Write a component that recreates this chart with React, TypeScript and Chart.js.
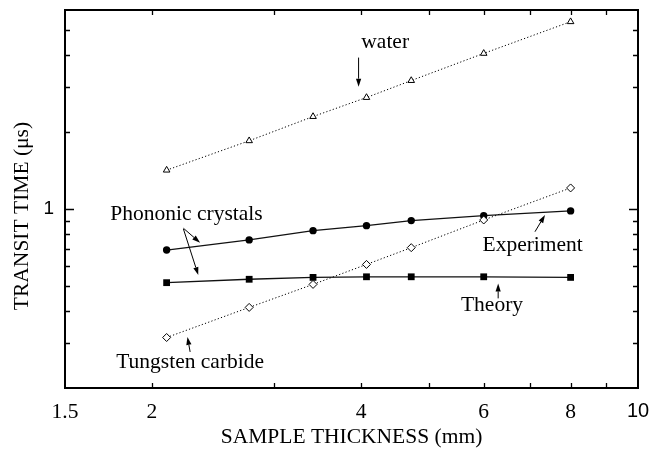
import React, { useEffect, useRef } from 'react';
import { Chart, registerables } from 'chart.js';

Chart.register(...registerables);

// ---- data ----
const thickness = [2.1, 2.76, 3.41, 4.07, 4.72, 6.0, 8.0];
const waterTime = [1.42, 1.85, 2.3, 2.73, 3.18, 4.06, 5.4];
const tungstenTime = [0.315, 0.413, 0.508, 0.608, 0.707, 0.907, 1.21];
const experimentTime = [0.692, 0.758, 0.824, 0.862, 0.902, 0.943, 0.984];
const theoryTime = [0.516, 0.532, 0.541, 0.544, 0.544, 0.544, 0.541];

const xTickValues = [1.5, 2, 3, 4, 5, 6, 7, 8, 9, 10];
const xTickLabels = ['1.5', '2', '', '4', '', '6', '', '8', '', '10'];
const yTickValues = [0.3, 0.4, 0.5, 0.6, 0.7, 0.8, 0.9, 1, 2, 3, 4, 5];
const yTickLabels = ['', '', '', '', '', '', '', '1', '', '', '', ''];

const xTitle = 'SAMPLE THICKNESS (mm)';
const yTitle = 'TRANSIT TIME (\u03bcs)';

// annotations in data coordinates
const noteTexts = ['water', 'Phononic crystals', 'Experiment', 'Theory', 'Tungsten carbide'];
const noteX = [4.33, 1.743, 5.976, 5.565, 1.777];
const noteY = [4.47, 0.958, 0.724, 0.4216, 0.2529];
const noteAlign = ['center', 'left', 'left', 'left', 'left'];

const arrowFromX = [3.965, 2.22, 2.22, 7.11, 6.294, 2.27];
const arrowFromY = [3.91, 0.842, 0.8366, 0.816, 0.448, 0.2767];
const arrowToX = [3.965, 2.346, 2.332, 7.35, 6.294, 2.25];
const arrowToY = [3.01, 0.739, 0.5525, 0.949, 0.5127, 0.3167];

const SERIF = '"Liberation Serif", "Times New Roman", serif';
const SANS = '"Liberation Sans", Arial, sans-serif';

const pts = (ys: number[]) => thickness.map((x, i) => ({ x, y: ys[i] }));

const framePlugin = {
  id: 'frameAndNotes',
  afterDatasetsDraw(chart: any) {
    const { ctx, chartArea: a } = chart;
    const xs = chart.scales.x;
    const ys = chart.scales.y;
    ctx.save();
    ctx.strokeStyle = '#000';
    ctx.fillStyle = '#000';
    // inner tick marks
    ctx.lineWidth = 1.3;
    ctx.beginPath();
    xTickValues.forEach((v) => {
      if (v <= xs.min || v >= xs.max) return;
      const px = Math.round(xs.getPixelForValue(v)) + 0.5;
      ctx.moveTo(px, a.bottom);
      ctx.lineTo(px, a.bottom - 5);
      ctx.moveTo(px, a.top);
      ctx.lineTo(px, a.top + 5);
    });
    yTickValues.forEach((v, i) => {
      if (v <= ys.min || v >= ys.max) return;
      const py = Math.round(ys.getPixelForValue(v)) + 0.5;
      const len = yTickLabels[i] ? 9 : 5;
      ctx.moveTo(a.left, py);
      ctx.lineTo(a.left + len, py);
      ctx.moveTo(a.right, py);
      ctx.lineTo(a.right - len, py);
    });
    ctx.stroke();
    // frame
    ctx.lineWidth = 2;
    ctx.strokeRect(a.left, a.top, a.right - a.left, a.bottom - a.top);

    // arrows
    ctx.lineWidth = 1;
    arrowFromX.forEach((fx, i) => {
      const x1 = xs.getPixelForValue(fx);
      const y1 = ys.getPixelForValue(arrowFromY[i]);
      const x2 = xs.getPixelForValue(arrowToX[i]);
      const y2 = ys.getPixelForValue(arrowToY[i]);
      const ang = Math.atan2(y2 - y1, x2 - x1);
      const hl = 8;
      const hw = 2.6;
      const bx = x2 - Math.cos(ang) * hl;
      const by = y2 - Math.sin(ang) * hl;
      ctx.beginPath();
      ctx.moveTo(x1, y1);
      ctx.lineTo(bx, by);
      ctx.stroke();
      ctx.beginPath();
      ctx.moveTo(x2, y2);
      ctx.lineTo(bx + Math.sin(ang) * hw, by - Math.cos(ang) * hw);
      ctx.lineTo(bx - Math.sin(ang) * hw, by + Math.cos(ang) * hw);
      ctx.closePath();
      ctx.fill();
    });

    // texts
    ctx.font = `21.5px ${SERIF}`;
    ctx.textBaseline = 'middle';
    noteTexts.forEach((t, i) => {
      ctx.textAlign = noteAlign[i] as CanvasTextAlign;
      ctx.fillText(t, xs.getPixelForValue(noteX[i]), ys.getPixelForValue(noteY[i]));
    });

    // y axis title
    ctx.save();
    ctx.translate(22, 216);
    ctx.rotate(-Math.PI / 2);
    ctx.textAlign = 'center';
    ctx.textBaseline = 'middle';
    ctx.font = `21.5px ${SERIF}`;
    ctx.fillText(yTitle, 0, 0);
    ctx.restore();

    ctx.restore();
  },
};

export default function App() {
  const ref = useRef<HTMLCanvasElement | null>(null);

  useEffect(() => {
    if (!ref.current) return;
    const chart = new Chart(ref.current, {
      type: 'scatter',
      data: {
        datasets: [
          {
            label: 'water',
            data: pts(waterTime),
            showLine: true,
            borderColor: '#000',
            borderWidth: 1,
            borderDash: [1.2, 2.2],
            pointStyle: 'triangle',
            pointRadius: 3.8,
            pointBackgroundColor: '#fff',
            pointBorderColor: '#000',
            pointBorderWidth: 1,
          },
          {
            label: 'Tungsten carbide',
            data: pts(tungstenTime),
            showLine: true,
            borderColor: '#000',
            borderWidth: 1,
            borderDash: [1.2, 2.2],
            pointStyle: 'rectRot',
            pointRadius: 4,
            pointBackgroundColor: '#fff',
            pointBorderColor: '#000',
            pointBorderWidth: 1,
          },
          {
            label: 'Experiment',
            data: pts(experimentTime),
            showLine: true,
            borderColor: '#111',
            borderWidth: 1.3,
            pointStyle: 'circle',
            pointRadius: 3.7,
            pointBackgroundColor: '#000',
            pointBorderColor: '#000',
            pointBorderWidth: 0,
          },
          {
            label: 'Theory',
            data: pts(theoryTime),
            showLine: true,
            borderColor: '#111',
            borderWidth: 1.3,
            pointStyle: 'rect',
            pointRadius: 4.8,
            pointBackgroundColor: '#000',
            pointBorderColor: '#000',
            pointBorderWidth: 0,
          },
        ],
      },
      options: {
        animation: false,
        responsive: false,
        layout: { padding: { left: 0, right: 13, top: 10, bottom: 0 } },
        plugins: {
          legend: { display: false },
          tooltip: { enabled: false },
        },
        scales: {
          x: {
            type: 'logarithmic',
            min: 1.5,
            max: 10,
            bounds: 'data',
            grid: { display: false, drawTicks: false },
            border: { display: false },
            afterBuildTicks: (s: any) => {
              s.ticks = xTickValues.map((v) => ({ value: v }));
            },
            afterFit: (s: any) => {
              s.height = 65;
              s.paddingLeft = 0;
              s.paddingRight = 0;
            },
            ticks: {
              autoSkip: false,
              maxRotation: 0,
              padding: 11,
              color: '#000',
              font: (c: any) => ({
                family: c.tick && c.tick.value === 10 ? SANS : SERIF,
                size: c.tick && c.tick.value === 10 ? 20 : 21.5,
              }),
              callback: (v: any) => {
                const i = xTickValues.indexOf(Number(v));
                return i >= 0 ? xTickLabels[i] : '';
              },
            },
            title: {
              display: true,
              text: xTitle,
              color: '#000',
              font: { family: SERIF, size: 21.5 },
              padding: { top: 0, bottom: 3 },
            },
          },
          y: {
            type: 'logarithmic',
            min: 0.2,
            max: 6,
            bounds: 'data',
            grid: { display: false, drawTicks: false },
            border: { display: false },
            afterBuildTicks: (s: any) => {
              s.ticks = yTickValues.map((v) => ({ value: v }));
            },
            afterFit: (s: any) => {
              s.width = 65;
              s.paddingTop = 0;
              s.paddingBottom = 0;
            },
            ticks: {
              autoSkip: false,
              padding: 11,
              color: '#000',
              font: { family: SANS, size: 19 },
              callback: (v: any) => {
                const i = yTickValues.indexOf(Number(v));
                return i >= 0 ? yTickLabels[i] : '';
              },
            },
          },
        },
      },
      plugins: [framePlugin],
    } as any);
    return () => chart.destroy();
  }, []);

  return (
    <div style={{ position: 'absolute', left: 0, top: 0, width: 651, height: 453, background: '#fff' }}>
      <canvas ref={ref} width={651} height={453} style={{ display: 'block' }} />
    </div>
  );
}
